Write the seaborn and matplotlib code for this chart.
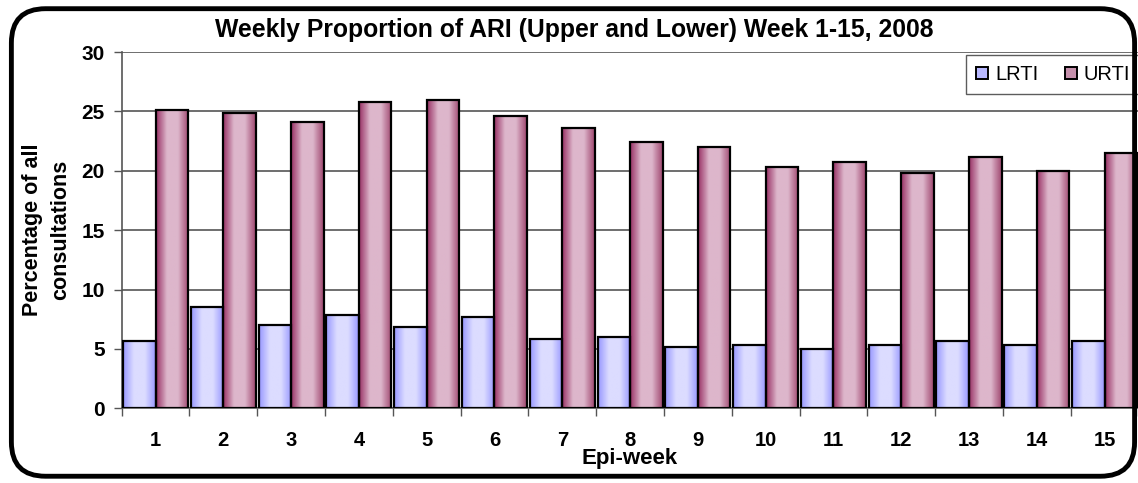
import numpy as np
import pandas as pd
import matplotlib
matplotlib.use('Agg')
import matplotlib.pyplot as plt
import seaborn as sns
from matplotlib.colors import LinearSegmentedColormap
from matplotlib.patches import FancyBboxPatch

weeks = [str(i) for i in range(1, 16)]
lrti = [5.65, 8.5, 7.0, 7.85, 6.85, 7.7, 5.85, 6.0, 5.15, 5.35, 5.0, 5.35, 5.65, 5.35, 5.65]
urti = [25.1, 24.9, 24.1, 25.8, 26.0, 24.6, 23.6, 22.4, 22.0, 20.3, 20.7, 19.8, 21.2, 20.0, 21.5]
series = ['LRTI', 'URTI']

df = pd.DataFrame({
    'week': weeks * 2,
    'value': lrti + urti,
    'type': ['LRTI'] * len(weeks) + ['URTI'] * len(weeks),
})

sns.set_style('white')
plt.rcParams['font.family'] = ['Liberation Sans', 'DejaVu Sans']
plt.rcParams['text.color'] = 'black'
plt.rcParams['xtick.labelcolor'] = 'black'
plt.rcParams['ytick.labelcolor'] = 'black'
plt.rcParams['axes.labelcolor'] = 'black'

fig = plt.figure(figsize=(11.38, 4.83), dpi=100)
ax = fig.add_axes([0.1069, 0.1547, 0.8935, 0.7376])

palette = {'LRTI': '#B8B8FF', 'URTI': '#C690AC'}
sns.barplot(data=df, x='week', y='value', hue='type', palette=palette,
            width=0.96, edgecolor='black', linewidth=1.6, saturation=1,
            ax=ax, zorder=3)

# gradient fills like the old Excel chart
cmaps = {
    'LRTI': LinearSegmentedColormap.from_list('l', ['#9999FF', '#DCDCFF', '#DCDCFF', '#9999FF']),
    'URTI': LinearSegmentedColormap.from_list('u', ['#993366', '#DDB6CB', '#DDB6CB', '#A04870']),
}
grad = np.linspace(0, 1, 64).reshape(1, -1)
for name, cont in zip(series, ax.containers):
    for bar in cont:
        x0, y0 = bar.get_x(), bar.get_y()
        w, h = bar.get_width(), bar.get_height()
        ax.imshow(grad, extent=[x0, x0 + w, y0, y0 + h], aspect='auto',
                  cmap=cmaps[name], zorder=2.5, interpolation='bilinear')
        bar.set_facecolor('none')

ax.set_xlim(-0.5, 14.5)
ax.set_ylim(0, 30)
ax.set_yticks(range(0, 31, 5))
ax.grid(axis='y', color='#555555', linewidth=1.2, zorder=0)
ax.set_axisbelow(True)

ax.set_xticks(range(len(weeks)))
ax.set_xticklabels(weeks, fontweight='bold', fontsize=14.5, color='black')
ax.set_xticks(np.arange(-0.5, 14.6, 1), minor=True)
ax.tick_params(axis='x', which='major', length=0, pad=16)
ax.tick_params(axis='x', which='minor', length=6, width=1, color='#555555', direction='out', bottom=True)
ax.tick_params(axis='y', length=6, width=1, color='#555555', direction='out', left=True, pad=6)
for t in ax.get_yticklabels():
    t.set_fontweight('bold')
    t.set_fontsize(15)
    t.set_color('black')

for s in ['top', 'right']:
    ax.spines[s].set_visible(False)
for s in ['left', 'bottom']:
    ax.spines[s].set_color('#555555')
    ax.spines[s].set_linewidth(1.2)

ax.set_xlabel('Epi-week', fontweight='bold', fontsize=16, labelpad=-1, color='black')
ax.set_ylabel('')
fig.text(0.041, 0.524, 'Percentage of all\nconsultations', rotation=90,
         ha='center', va='center', multialignment='center', color='black',
         fontweight='bold', fontsize=15.5, linespacing=1.4)
fig.text(0.505, 0.938, 'Weekly Proportion of ARI (Upper and Lower) Week 1-15, 2008',
         ha='center', va='center', fontweight='bold', fontsize=17.8, color='black')

handles, labels = ax.get_legend_handles_labels()
ax.legend(handles, labels, loc='upper left', bbox_to_anchor=(0.849, 0.886),
          bbox_transform=fig.transFigure, ncol=2, frameon=True, fancybox=False,
          edgecolor='#333333', fontsize=14.5, handlelength=0.6, handleheight=0.6,
          handletextpad=0.35, columnspacing=1.3, borderpad=0.5, borderaxespad=0,
          labelcolor='black')
ax.get_legend().get_frame().set_linewidth(1.0)
for h in ax.get_legend().legend_handles:
    h.set_edgecolor('black')
    h.set_linewidth(1.4)

border = FancyBboxPatch((0.010, 0.014), 0.987, 0.968,
                        boxstyle='round,pad=0,rounding_size=0.03',
                        transform=fig.transFigure, fill=False,
                        edgecolor='black', linewidth=3.5, mutation_aspect=2.36)
fig.patches.append(border)

fig.savefig('out.png', dpi=100)
